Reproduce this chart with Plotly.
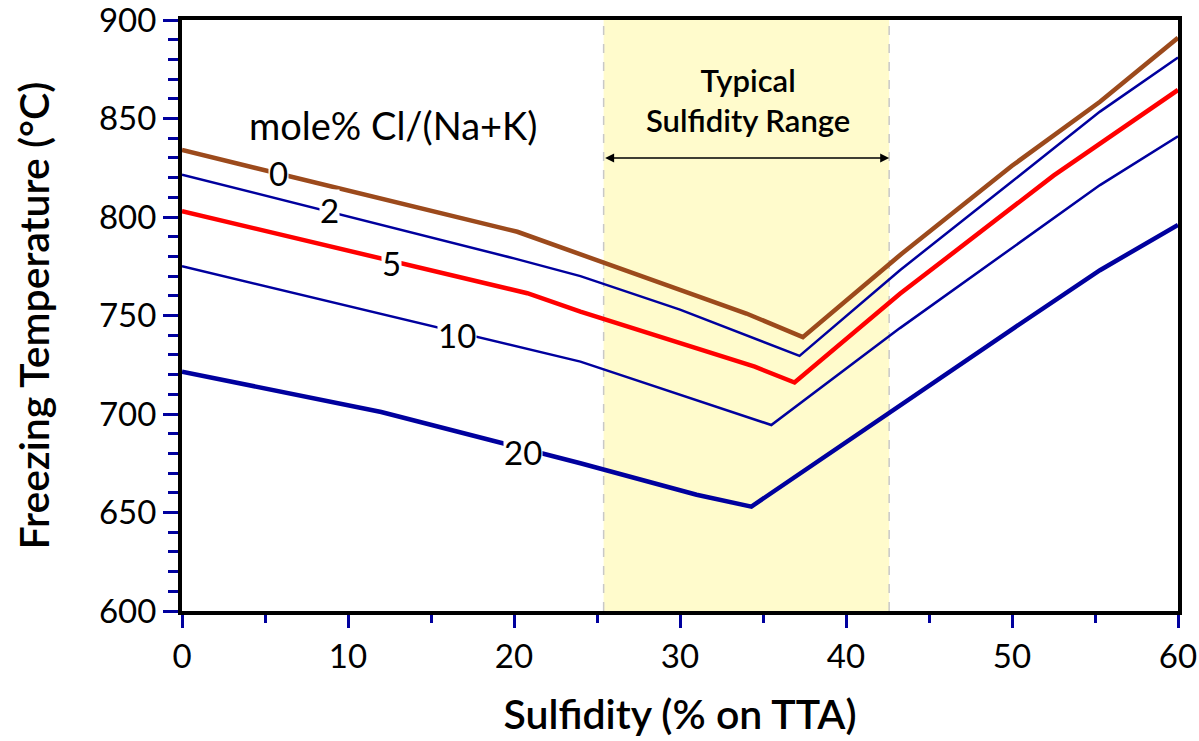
import plotly.graph_objects as go

# Data
x_c0 = [0, 20.2, 30, 34, 37.4, 43.3, 50, 55.3, 60]
y_c0 = [834, 792.5, 763, 751, 739, 781, 826, 858.5, 891]

x_c2 = [0, 20, 24, 30, 37.2, 43.25, 50, 55.3, 60]
y_c2 = [821.5, 779, 770, 753, 729.5, 773, 818, 853.5, 881]

x_c5 = [0, 20.8, 24, 34.5, 36.9, 43.25, 52.5, 55.3, 60]
y_c5 = [803, 761.3, 752, 724, 716, 761, 821, 837.4, 864.5]

x_c10 = [0, 24, 35.5, 43.25, 55.3, 60]
y_c10 = [775, 726.6, 694.4, 743.6, 816.2, 841]

x_c20 = [0, 12, 24, 31, 34.3, 43.25, 50, 55.3, 60]
y_c20 = [721.5, 701, 675, 659, 653, 704.6, 743, 773, 796]

curve_labels = ["0", "2", "5", "10", "20"]
label_x = [5.84, 8.9, 12.65, 16.57, 20.54]
label_y = [822.3, 803.5, 776.6, 740, 680.7]

band_range = [25.4, 42.6]
arrow_y = 830

FONT = "Lato"
BLUE = "#00009E"

fig = go.Figure()

fig.add_shape(type="rect", xref="x", yref="y", x0=band_range[0], x1=band_range[1],
              y0=600, y1=900, fillcolor="#FFFBCC", line_width=0, layer="below")
for xv in band_range:
    fig.add_shape(type="line", xref="x", yref="y", x0=xv, x1=xv, y0=600, y1=900,
                  line=dict(color="#C8C8C8", width=1.5, dash="dash"), layer="below")

series = [
    (x_c0, y_c0, "#9C4A1C", 4.5),
    (x_c2, y_c2, BLUE, 2.5),
    (x_c5, y_c5, "#FF0000", 4.5),
    (x_c10, y_c10, BLUE, 2.5),
    (x_c20, y_c20, BLUE, 4.5),
]
for (xs, ys, col, w), name in zip(series, curve_labels):
    fig.add_trace(go.Scatter(x=xs, y=ys, mode="lines", name=name,
                             line=dict(color=col, width=w), showlegend=False))

for t, xv, yv in zip(curve_labels, label_x, label_y):
    fig.add_annotation(x=xv, y=yv, xref="x", yref="y", text=t, showarrow=False,
                       font=dict(family=FONT, size=33, color="black"),
                       bgcolor="white", borderpad=0)

fig.add_annotation(x=12.7, y=846.7, xref="x", yref="y", text="mole% Cl/(Na+K)",
                   showarrow=False, font=dict(family=FONT, size=38, color="black"))

fig.add_annotation(x=34.1, y=859.4, xref="x", yref="y", text="Typical<br>Sulfidity Range",
                   showarrow=False, font=dict(family=FONT, size=31, color="black", weight=600))

fig.add_annotation(x=band_range[1], y=arrow_y, ax=band_range[0], ay=arrow_y,
                   xref="x", yref="y", axref="x", ayref="y", text="",
                   showarrow=True, arrowhead=2, arrowside="end+start", arrowsize=1.2,
                   arrowwidth=1.5, arrowcolor="black", standoff=0, startstandoff=0)

axis_common = dict(
    showline=True, linecolor="black", linewidth=4, mirror=True,
    showgrid=False, zeroline=False, automargin=False,
    ticks="outside", tickcolor=BLUE, tickwidth=3, ticklabeloverflow="allow",
    tickfont=dict(family=FONT, size=33, color="black"),
)

fig.update_xaxes(range=[0, 60], tick0=0, dtick=10, ticklen=13,
                 minor=dict(dtick=5, ticklen=8, tickcolor=BLUE, tickwidth=3, ticks="outside"),
                 title=dict(text="Sulfidity (% on TTA)", standoff=28,
                            font=dict(family=FONT, size=41, color="black", weight=600)),
                 **axis_common)
fig.update_yaxes(range=[600, 900], tick0=600, dtick=50, ticklen=15,
                 minor=dict(dtick=10, ticklen=10, tickcolor=BLUE, tickwidth=3, ticks="outside"),
                 title=dict(text="Freezing Temperature (°C)", standoff=38,
                            font=dict(family=FONT, size=41, color="black", weight=600)),
                 **axis_common)

fig.update_layout(
    width=1199, height=741,
    margin=dict(l=182, r=21, t=20, b=130),
    plot_bgcolor="white", paper_bgcolor="white",
    font=dict(family=FONT),
)

fig.write_html("out.html")
